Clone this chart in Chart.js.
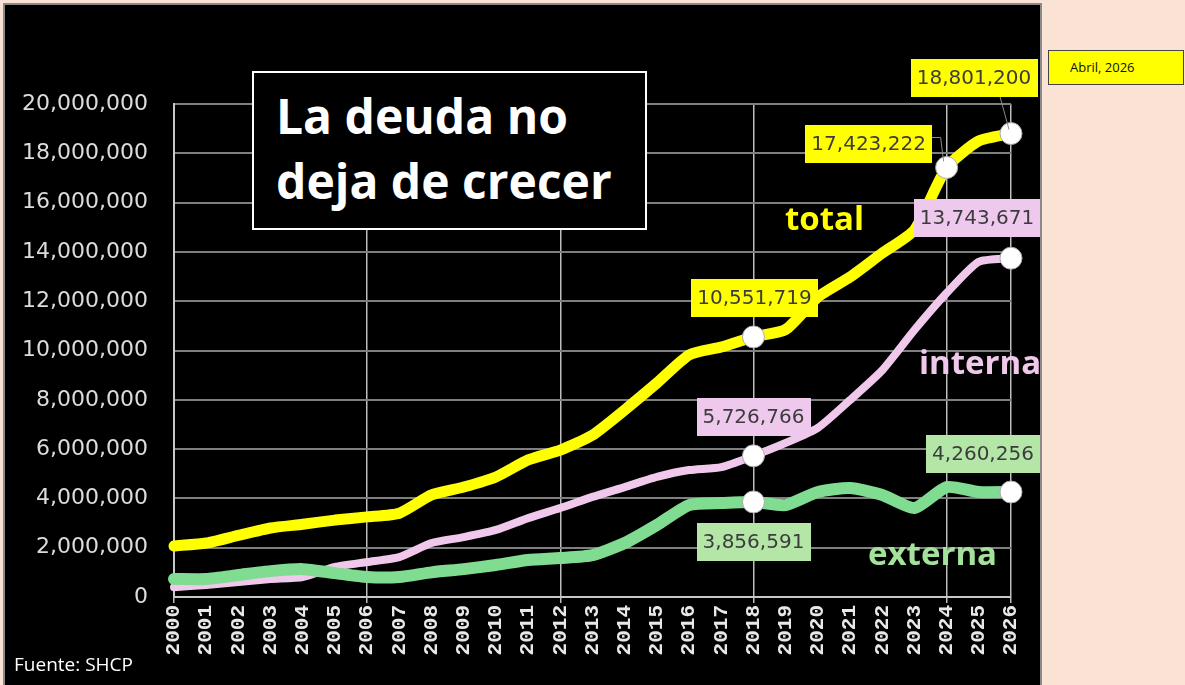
<!DOCTYPE html>
<html lang="es">
<head>
<meta charset="utf-8">
<title>La deuda no deja de crecer</title>
<script src="https://cdn.jsdelivr.net/npm/chart.js@4.4.1/dist/chart.umd.min.js"></script>
<style>
  html, body { margin: 0; padding: 0; }
  body {
    width: 1185px; height: 685px; position: relative; overflow: hidden;
    background: #fae2d4; font-family: "Open Sans", sans-serif;
  }
  #panel {
    position: absolute; left: 3px; top: 3px; width: 1035px; height: 700px;
    background: #000; border: 2px solid #8a8a8a;
  }
  #grafica { position: absolute; left: 0; top: 0; }
  .nota { position: absolute; white-space: nowrap; }
  #titulo {
    left: 252px; top: 71px; width: 369px; height: 155px;
    border: 2px solid #fff; background: #000; color: #fff;
    font-weight: 700; font-size: 48px; line-height: 65px;
    padding: 0 0 0 22px; box-sizing: content-box;
  }
  #titulo div:first-child { margin-top: 10px; }
  .serie { font-weight: 700; font-size: 33px; line-height: 40px; }
  #abril {
    left: 1048px; top: 50px; width: 134px; height: 33px;
    background: #ffff00; border: 1px solid #444; color: #111;
    font-size: 13px; line-height: 33px; text-indent: 21px;
  }
  #fuente { left: 14px; top: 651px; color: #fff; font-size: 19px; }
</style>
</head>
<body>
<div id="panel"><canvas id="grafica" width="1035" height="680"></canvas></div>

<div class="nota" id="titulo"><div>La deuda no</div><div>deja de crecer</div></div>
<div class="nota serie" style="left:785px; top:198px; color:#ffff00;">total</div>
<div class="nota serie" style="left:919px; top:342px; color:#f0c8ec;">interna</div>
<div class="nota serie" style="left:868px; top:533px; color:#a4e29c;">externa</div>
<div class="nota" id="abril">Abril, 2026</div>
<div class="nota" id="fuente">Fuente: SHCP</div>

<script>
// años del eje x
const anios = ["2000", "2001", "2002", "2003", "2004", "2005", "2006", "2007", "2008",
  "2009", "2010", "2011", "2012", "2013", "2014", "2015", "2016", "2017", "2018",
  "2019", "2020", "2021", "2022", "2023", "2024", "2025", "2026"];

// millones de pesos
const deudaTotal = [2070000, 2190000, 2500000, 2800000, 2950000, 3120000, 3250000, 3400000,
  4140000, 4460000, 4870000, 5560000, 5960000, 6570000, 7590000, 8680000, 9820000,
  10140000, 10551719, 10850000, 12170000, 12980000, 13950000, 14890000, 17423222,
  18500000, 18801200];

const deudaInterna = [400000, 490000, 610000, 730000, 810000, 1220000, 1420000, 1620000,
  2190000, 2430000, 2720000, 3200000, 3610000, 4060000, 4460000, 4870000, 5150000,
  5270000, 5726766, 6250000, 6860000, 7990000, 9200000, 10830000, 12330000, 13600000,
  13743671];

const deudaExterna = [730000, 730000, 890000, 1050000, 1130000, 970000, 810000, 810000,
  1000000, 1130000, 1300000, 1500000, 1580000, 1700000, 2190000, 2920000, 3730000,
  3810000, 3856591, 3730000, 4260000, 4420000, 4140000, 3610000, 4460000, 4260000,
  4260256];

const ejeYMin = 0;
const ejeYMax = 20000000;
const ejeYPaso = 2000000;

// años con marcador y etiqueta
const marcasTotal = [18, 24, 26];
const marcasInterna = [18, 26];
const marcasExterna = [18, 26];

function formato(v) {
  return v.toLocaleString("en-US");
}

function radioMarca(lista) {
  return ctx => lista.includes(ctx.dataIndex) ? 11 : 0;
}

// cajas de valores junto a los puntos
const cajas = [
  { serie: 0, punto: 18, dx: 1, dy: -39, fondo: "#ffff00" },
  { serie: 0, punto: 24, dx: -78, dy: -24, fondo: "#ffff00", guia: "codo" },
  { serie: 0, punto: 26, dx: -37, dy: -56, fondo: "#ffff00", guia: "recta" },
  { serie: 2, punto: 18, dx: 0, dy: -39, fondo: "#efc9ed" },
  { serie: 2, punto: 26, dx: -34, dy: -40, fondo: "#efc9ed" },
  { serie: 1, punto: 18, dx: 0, dy: 40, fondo: "#b4e6a8" },
  { serie: 1, punto: 26, dx: -28, dy: -38, fondo: "#b4e6a8" }
];

const pluginCajas = {
  id: "cajas",
  afterDatasetsDraw(chart) {
    const c = chart.ctx;
    c.save();
    c.font = "20px 'DejaVu Sans'";
    c.textAlign = "center";
    c.textBaseline = "middle";
    cajas.forEach(k => {
      const p = chart.getDatasetMeta(k.serie).data[k.punto];
      const valor = chart.data.datasets[k.serie].data[k.punto];
      const texto = formato(valor);
      const w = c.measureText(texto).width + 12;
      const h = 38;
      const cx = p.x + k.dx, cy = p.y + k.dy;
      c.strokeStyle = "#8c8c8c";
      c.lineWidth = 1;
      if (k.guia === "recta") {
        c.beginPath();
        c.moveTo(cx + 26, cy + h / 2);
        c.lineTo(p.x - 2, p.y - 4);
        c.stroke();
      } else if (k.guia === "codo") {
        c.beginPath();
        c.moveTo(cx + w / 2, cy - 6);
        c.lineTo(p.x - 6, cy - 6);
        c.lineTo(p.x - 3, p.y - 6);
        c.stroke();
      }
      c.fillStyle = k.fondo;
      c.fillRect(Math.round(cx - w / 2), Math.round(cy - h / 2), Math.round(w), h);
      c.fillStyle = "#3c3c3c";
      c.fillText(texto, cx, cy + 1);
    });
    c.restore();
  }
};

const estiloMarca = {
  pointBackgroundColor: "#ffffff",
  pointBorderColor: "#a8a8a8",
  pointBorderWidth: 1,
  pointHoverRadius: 0,
  clip: false
};

new Chart(document.getElementById("grafica"), {
  type: "line",
  data: {
    labels: anios,
    datasets: [
      Object.assign({
        label: "total",
        data: deudaTotal,
        borderColor: "#ffff00",
        borderWidth: 11,
        pointRadius: radioMarca(marcasTotal)
      }, estiloMarca),
      Object.assign({
        label: "externa",
        data: deudaExterna,
        borderColor: "#80dc90",
        borderWidth: 12,
        pointRadius: radioMarca(marcasExterna)
      }, estiloMarca),
      Object.assign({
        label: "interna",
        data: deudaInterna,
        borderColor: "#f0c8ec",
        borderWidth: 8,
        pointRadius: radioMarca(marcasInterna)
      }, estiloMarca)
    ]
  },
  options: {
    responsive: false,
    animation: false,
    events: [],
    elements: {
      line: { tension: 0.2, borderCapStyle: "round", borderJoinStyle: "round" }
    },
    layout: { padding: { top: 99, right: 29, left: 0, bottom: 0 } },
    plugins: {
      legend: { display: false },
      tooltip: { enabled: false }
    },
    scales: {
      x: {
        type: "category",
        offset: false,
        afterFit(eje) { eje.height = 88; },
        grid: {
          color: ctx => (ctx.index % 6 === 0 || ctx.index === anios.length - 1) ? "#bdbdbd" : "rgba(0,0,0,0)",
          lineWidth: 1.5,
          drawTicks: true,
          tickLength: 6
        },
        border: { color: "#c8c8c8", width: 2 },
        ticks: {
          autoSkip: false,
          minRotation: 90,
          maxRotation: 90,
          padding: 2,
          color: "#e8e8e8",
          font: { family: "'Liberation Mono'", size: 21, weight: "bold" }
        }
      },
      y: {
        min: ejeYMin,
        max: ejeYMax,
        afterFit(eje) { eje.width = 169; },
        grid: { color: "#7f7f7f", lineWidth: 2, drawTicks: false },
        border: { color: "#c8c8c8", width: 2 },
        ticks: {
          stepSize: ejeYPaso,
          padding: 26,
          color: "#dcdcdc",
          font: { family: "'DejaVu Sans'", size: 22 },
          callback: v => formato(v)
        }
      }
    }
  },
  plugins: [pluginCajas]
});
</script>
</body>
</html>
